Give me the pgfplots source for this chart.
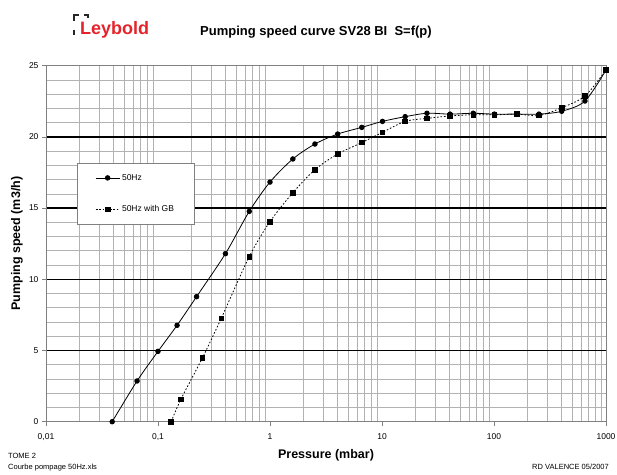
\documentclass[border=0pt]{standalone}
\usepackage{fontspec}
\setmainfont{Liberation Sans}
\usepackage{pgfplots}
\pgfplotsset{compat=1.18}
\definecolor{leyred}{RGB}{228,35,43}
\definecolor{gridgray}{RGB}{178,178,178}
\definecolor{axgray}{RGB}{128,128,128}
\begin{document}
\begin{tikzpicture}
\useasboundingbox (0pt,0pt) rectangle (617pt,474pt);
\begin{axis}[
  at={(46pt,52.3pt)}, anchor=south west,
  scale only axis, width=560pt, height=356pt,
  xmode=log, xmin=0.01, xmax=1000, ymin=0, ymax=25,
  xtick={0.01,0.1,1,10,100,1000},
  xticklabels={\textrm{0,01},\textrm{0,1},\textrm{1},\textrm{10},\textrm{100},\textrm{1000}},
  minor xtick={0.02,0.03,0.04,0.05,0.06,0.07,0.08,0.09,
               0.2,0.3,0.4,0.5,0.6,0.7,0.8,0.9,
               2,3,4,5,6,7,8,9,20,30,40,50,60,70,80,90,
               200,300,400,500,600,700,800,900},
  ytick={5,10,15,20},
  extra y ticks={0,25},
  extra tick style={major grid style={axgray, line width=1.3pt}},
  minor ytick={1,2,3,4,6,7,8,9,11,12,13,14,16,17,18,19,21,22,23,24},
  xminorgrids, yminorgrids, ymajorgrids, xmajorgrids=false,
  minor grid style={gridgray, line width=0.7pt},
  major grid style={black, line width=1.6pt},
  axis line style={axgray, line width=0.8pt},
  tick align=outside, major tick length=4pt, minor tick length=0pt,
  tick style={axgray, line width=0.6pt},
  xtick pos=bottom, ytick pos=left,
  ticklabel style={font=\fontsize{8.5}{10}\selectfont, /pgf/number format/assume math mode=true},
  xticklabel style={yshift=-4pt},
  xlabel={Pressure (mbar)},
  ylabel={Pumping speed (m3/h)},
  label style={font=\bfseries\fontsize{12.5}{14}\selectfont},
  xlabel style={at={(axis description cs:0.5,-0.0935)}, anchor=center},
  ylabel style={at={(axis description cs:-0.0518,0.5)}, anchor=center},
  legend style={at={(0.0554,0.7267)}, anchor=north west, draw=axgray, fill=white,
    font=\fontsize{8.5}{10}\selectfont, row sep=20pt, inner xsep=18pt, inner ysep=9pt,
    cells={anchor=west}},
  legend image code/.code={\draw[mark repeat=2,mark phase=2,#1] plot coordinates {(0pt,0pt) (12pt,0pt) (24pt,0pt)};},
]
\addplot[black, line width=0.8pt, smooth, tension=0.5, mark=*, mark size=2.3pt] coordinates {
(0.039,0) (0.065,2.86) (0.1,4.94) (0.148,6.77) (0.221,8.78) (0.40,11.8) (0.653,14.77)
(1.0,16.83) (1.6,18.45) (2.52,19.5) (4.02,20.2) (6.6,20.67) (10.1,21.09) (16.1,21.42)
(25.2,21.66) (40.5,21.6) (65.3,21.66) (100.7,21.6) (161,21.6) (252,21.6) (402,21.8)
(649,22.52) (1000,24.7)};
\addlegendentry{50Hz}
\addplot[black, line width=0.8pt, smooth, tension=0.5, dash pattern=on 1.6pt off 1.9pt,
  mark=square*, mark size=2.3pt, mark options={solid}] coordinates {
(0.131,0) (0.160,1.57) (0.25,4.5) (0.367,7.26) (0.653,11.59) (1.0,14.05) (1.6,16.08)
(2.52,17.7) (4.02,18.8) (6.6,19.6) (10.1,20.32) (16.1,21.09) (25.2,21.3) (40.5,21.47)
(65.3,21.56) (100.7,21.55) (161,21.6) (252,21.5) (402,22.05) (649,22.87) (1000,24.7)};
\addlegendentry{50Hz with GB}
\end{axis}
% header
\node[anchor=base, font=\bfseries\fontsize{13}{15}\selectfont] at (316pt,438pt) {Pumping speed curve SV28 BI\ \ S=f(p)};
\node[anchor=base west, inner sep=0pt, text=leyred, font=\bfseries\fontsize{18}{20}\selectfont] at (80pt,439pt) {Leybold};
\draw[black!85, line width=1.6pt] (74pt,453pt) -- (74pt,459pt) -- (79pt,459pt);
\draw[black!85, line width=1.6pt] (74pt,444pt) -- (74pt,438.5pt);
\draw[black!85, line width=1.6pt] (84pt,459pt) -- (88pt,459pt) -- (88pt,456pt);
% footer
\node[anchor=base west, inner sep=0pt, font=\fontsize{7.5}{9}\selectfont] at (8pt,16pt) {TOME 2};
\node[anchor=base west, inner sep=0pt, font=\fontsize{7.5}{9}\selectfont] at (8pt,4.5pt) {Courbe pompage 50Hz.xls};
\node[anchor=base east, inner sep=0pt, font=\fontsize{7.5}{9}\selectfont] at (609pt,4.5pt) {RD VALENCE 05/2007};
\end{tikzpicture}
\end{document}
